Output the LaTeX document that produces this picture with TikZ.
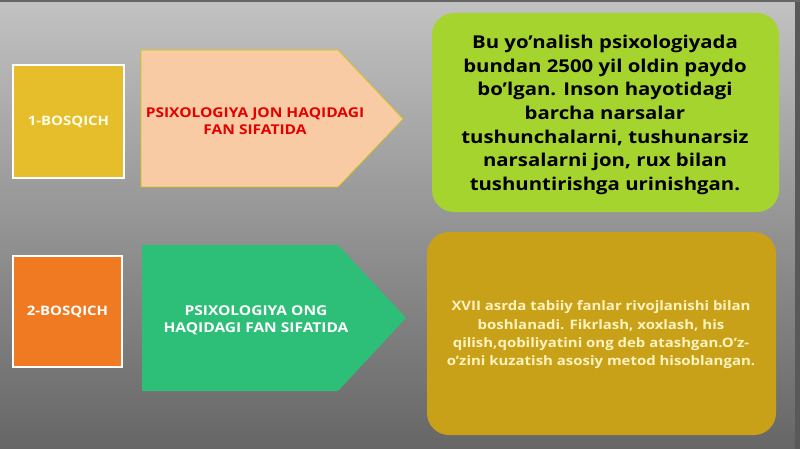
\documentclass[tikz,border=0pt]{standalone}
\usepackage{fontspec}
\setmainfont{Open Sans}
\newfontfamily\widesans[FakeStretch=1.15]{Open Sans}
\begin{document}
\begin{tikzpicture}[x=1pt,y=-1pt,
  stepbox/.style={draw=white,line width=1.2pt},
  lbl/.style={font=\widesans\bfseries\fontsize{13}{15}\selectfont,text=white,align=center},
  arrtxt/.style={font=\widesans\bfseries\fontsize{13.5}{17}\selectfont,align=center},
  infobox/.style={rounded corners=22pt}
]
\definecolor{bgtop}{HTML}{C2C2C2}
\definecolor{bgbot}{HTML}{666666}
\definecolor{yel}{HTML}{E6BE2C}
\definecolor{ora}{HTML}{F07A22}
\definecolor{peach}{HTML}{F8CBA4}
\definecolor{grn}{HTML}{2DBE78}
\definecolor{lime}{HTML}{A6D42E}
\definecolor{gold}{HTML}{C9A118}
\definecolor{lightyel}{HTML}{FFF3C0}
\useasboundingbox (0,0) rectangle (800,449);
\shade[top color=bgtop,bottom color=bgbot] (0,0) rectangle (800,449);
\fill[gray!70!black] (795,0) rectangle (800,449);
\fill[gray!80!black] (0,0) rectangle (800,2);
% step boxes
\draw[stepbox,fill=yel] (13,65) rectangle (124,178);
\node[lbl,text=white!90!yellow] (s1) at (68.5,122) {1-BOSQICH};
\draw[stepbox,fill=ora] (13,256) rectangle (122,367);
\node[lbl] (s2) at (67.5,312) {2-BOSQICH};
% arrows
\draw[fill=peach,draw=yellow!60!olive,line width=0.6pt] (141,50) -- (338,50) -- (403,119) -- (338,187) -- (141,187) -- cycle;
\node[arrtxt,text=red!90!black] (a1) at (255,121) {PSIXOLOGIYA JON HAQIDAGI\\FAN SIFATIDA};
\fill[grn] (142,245) -- (338,245) -- (406,318) -- (338,391) -- (142,391) -- cycle;
\node[arrtxt,text=white] (a2) at (256,320) {PSIXOLOGIYA ONG\\HAQIDAGI FAN SIFATIDA};
% info boxes
\fill[lime,infobox] (432,13) rectangle (779,212);
\node[font=\widesans\bfseries\fontsize{17.7}{23.7}\selectfont,align=center,text=black] (t1) at (605,115)
 {Bu yo’nalish psixologiyada\\bundan 2500 yil oldin paydo\\bo’lgan. Inson hayotidagi\\barcha narsalar\\tushunchalarni, tushunarsiz\\narsalarni jon, rux bilan\\tushuntirishga urinishgan.};
\fill[gold,infobox] (427,232) rectangle (776,435);
\node[font=\widesans\bfseries\fontsize{13}{18.3}\selectfont,align=center,text=lightyel] (t2) at (601,335)
 {XVII asrda tabiiy fanlar rivojlanishi bilan\\boshlanadi. Fikrlash, xoxlash, his\\qilish,qobiliyatini ong deb atashgan.O’z-\\o’zini kuzatish asosiy metod hisoblangan.};
\end{tikzpicture}
\end{document}
